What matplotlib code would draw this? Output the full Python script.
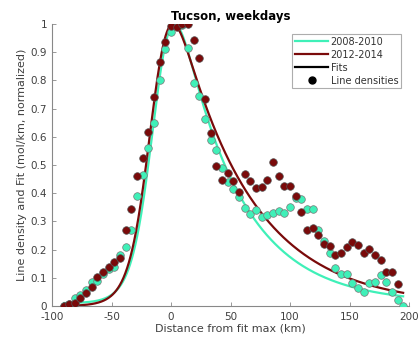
import numpy as np
import matplotlib
matplotlib.use("Agg")
import matplotlib.pyplot as plt
from matplotlib.lines import Line2D

# Along-wind distance of each line-density bin (km from fit maximum)
distance = [-90.4, -85.7, -80.9, -76.2, -71.4, -66.6, -61.9, -57.1, -52.4, -47.6,
            -42.8, -38.1, -33.3, -28.6, -23.8, -19.0, -14.3, -9.5, -4.8, 0.0,
            4.8, 9.5, 14.3, 19.0, 23.8, 28.6, 33.3, 38.1, 42.8, 47.6,
            52.4, 57.1, 61.9, 66.6, 71.4, 76.2, 80.9, 85.7, 90.4, 95.2,
            100.0, 104.7, 109.5, 114.2, 119.0, 123.8, 128.5, 133.3, 138.0, 142.8,
            147.6, 152.3, 157.1, 161.8, 166.6, 171.4, 176.1, 180.9, 185.6, 190.4,
            195.2]

# Normalized line densities, 2008-2010
dens_0810 = [0.0, 0.008, 0.03, 0.04, 0.057, 0.085, 0.09, 0.115, 0.131, 0.138,
             0.18, 0.21, 0.27, 0.39, 0.466, 0.559, 0.65, 0.80, 0.91, 0.973,
             1.0, 0.995, 0.914, 0.79, 0.743, 0.664, 0.587, 0.552, 0.49, 0.44,
             0.414, 0.388, 0.346, 0.327, 0.342, 0.315, 0.322, 0.329, 0.338, 0.329,
             0.352, 0.383, 0.379, 0.345, 0.343, 0.268, 0.23, 0.189, 0.134, 0.113,
             0.112, 0.08, 0.063, 0.049, 0.08, 0.086, 0.11, 0.086, 0.051, 0.021,
             0.001]

# Normalized line densities, 2012-2014
dens_1214 = [0.0, 0.007, 0.01, 0.028, 0.045, 0.068, 0.104, 0.12, 0.14, 0.155,
             0.171, 0.27, 0.343, 0.461, 0.524, 0.618, 0.742, 0.864, 0.937, 0.993,
             0.99, 1.0, 1.0, 0.945, 0.88, 0.734, 0.615, 0.497, 0.446, 0.471,
             0.444, 0.406, 0.468, 0.444, 0.42, 0.421, 0.447, 0.51, 0.46, 0.427,
             0.427, 0.39, 0.335, 0.27, 0.278, 0.252, 0.22, 0.213, 0.181, 0.189,
             0.208, 0.228, 0.216, 0.189, 0.201, 0.181, 0.163, 0.12, 0.122, 0.078,
             np.nan]

# Fit parameters: (center, gaussian sigma, upwind e-fold, downwind e-fold, background)
fit_0810 = (-6.0, 11.0, 10.0, 50.0, 0.01)
fit_1214 = (-8.5, 11.0, 10.0, 61.0, 0.0)

teal = "#3ff0b8"
maroon = "#7a0a0a"


def plume_fit(x, center, sigma, x_up, x_down, bg):
    """Gaussian source smeared by an asymmetric (two-sided) exponential,
    scaled to a maximum of 1."""
    dx = x[1] - x[0]
    k = np.arange(-300.0, 300.0 + dx / 2, dx)
    kernel = np.where(k >= 0, np.exp(-k / x_down), np.exp(k / x_up))
    gauss = np.exp(-0.5 * ((x - center) / sigma) ** 2)
    g = np.convolve(gauss, kernel, mode="same")
    g = g / g.max()
    return g * (1 - bg) + bg


xg = np.arange(-400.0, 500.0, 0.5)
keep = (xg >= -90) & (xg <= 195)

fig = plt.figure(figsize=(4.2, 3.41), dpi=100)
ax = fig.add_axes([0.124, 0.1026, 0.850, 0.827])

ax.plot(xg[keep], plume_fit(xg, *fit_0810)[keep], color=teal, lw=1.6, zorder=2)
ax.plot(xg[keep], plume_fit(xg, *fit_1214)[keep], color=maroon, lw=1.6, zorder=2)

ax.scatter(distance, dens_0810, s=30, c=teal, edgecolors="#777777",
           linewidths=0.5, zorder=3)
ax.scatter(distance, dens_1214, s=30, c=maroon, edgecolors="#555555",
           linewidths=0.5, zorder=4)

ax.set_xlim(-100, 200)
ax.set_ylim(0, 1)
ax.set_xticks([-100, -50, 0, 50, 100, 150, 200])
ax.set_xticklabels(["-100", "-50", "0", "50", "100", "150", "200"])
ax.set_yticks(np.arange(0, 1.01, 0.1))
ax.set_yticklabels(["0", "0.1", "0.2", "0.3", "0.4", "0.5", "0.6", "0.7",
                    "0.8", "0.9", "1"])

for side in ("top", "right"):
    ax.spines[side].set_visible(False)
for side in ("left", "bottom"):
    ax.spines[side].set_color("#888888")
    ax.spines[side].set_linewidth(0.8)
ax.tick_params(direction="in", length=3, width=0.6, color="#888888",
               labelsize=7.5, labelcolor="#404040")
ax.tick_params(axis="x", pad=4.5)
ax.tick_params(axis="y", pad=3.5)

ax.set_xlabel("Distance from fit max (km)", fontsize=8, color="#404040",
              labelpad=1)
ax.set_ylabel("Line density and Fit (mol/km, normalized)", fontsize=8,
              color="#404040", labelpad=3)
ax.set_title("Tucson, weekdays", fontsize=8.5, fontweight="bold", pad=3)

handles = [
    Line2D([], [], color=teal, lw=1.6),
    Line2D([], [], color=maroon, lw=1.6),
    Line2D([], [], color="black", lw=1.6),
    Line2D([], [], color="black", marker="o", ls="none", markersize=5),
]
leg = ax.legend(handles, ["2008-2010", "2012-2014", "Fits", "Line densities"],
                loc="upper right", bbox_to_anchor=(0.978, 0.965), fontsize=7,
                frameon=True, fancybox=False, handlelength=3.4,
                handletextpad=0.25, labelspacing=0.3, borderpad=0.3,
                borderaxespad=0.0)
leg.get_frame().set_edgecolor("#999999")
leg.get_frame().set_linewidth(0.8)
for t in leg.get_texts():
    t.set_color("#333333")

fig.savefig("out.png", dpi=100)
